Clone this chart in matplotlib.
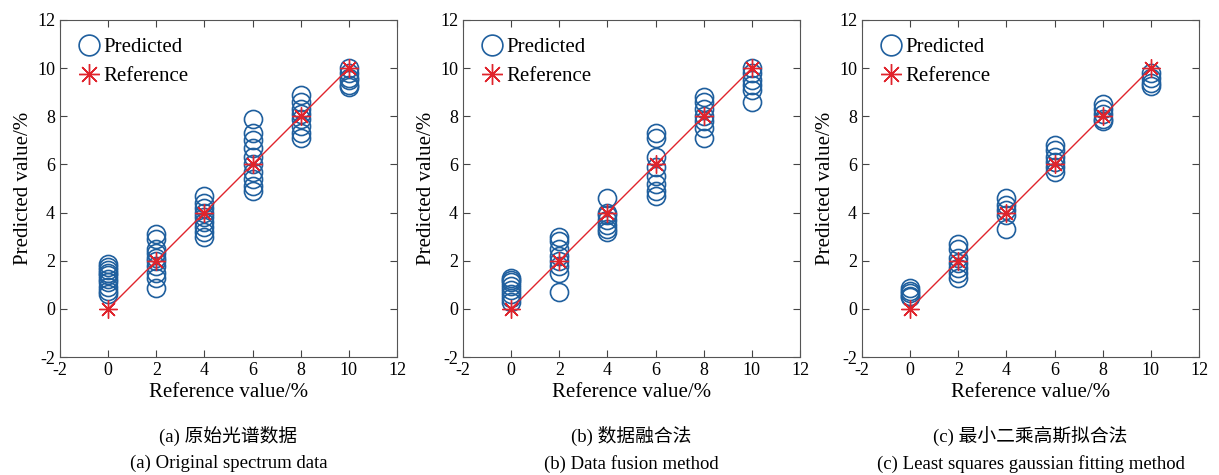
import matplotlib.pyplot as plt

plt.rcParams['font.family'] = ['Liberation Serif', 'Noto Sans CJK SC']
plt.rcParams['axes.unicode_minus'] = False

# reference concentrations (%)
ref_vals = [0, 2, 4, 6, 8, 10]

# predicted values at each reference level, one dict per panel
pred_a = {
    0: [1.85, 1.75, 1.6, 1.5, 1.4, 1.25, 1.1, 0.9, 0.75, 0.6],
    2: [3.1, 2.9, 2.5, 2.3, 2.1, 2.0, 1.8, 1.5, 1.3, 0.85],
    4: [4.7, 4.4, 4.2, 4.0, 3.8, 3.6, 3.4, 3.2, 3.0],
    6: [7.9, 7.3, 7.0, 6.7, 6.3, 6.0, 5.7, 5.4, 5.1, 4.9],
    8: [8.9, 8.6, 8.3, 8.1, 7.9, 7.6, 7.3, 7.1],
    10: [10.0, 9.8, 9.6, 9.5, 9.3, 9.2],
}
pred_b = {
    0: [1.3, 1.2, 1.1, 0.95, 0.8, 0.6, 0.45, 0.3],
    2: [3.0, 2.8, 2.5, 2.2, 2.0, 1.8, 1.5, 0.7],
    4: [4.6, 4.0, 3.9, 3.7, 3.5, 3.3, 3.2],
    6: [7.3, 7.1, 6.3, 5.9, 5.5, 5.2, 4.9, 4.7],
    8: [8.8, 8.6, 8.3, 8.0, 7.8, 7.5, 7.1],
    10: [10.0, 9.8, 9.5, 9.3, 9.1, 8.6],
}
pred_c = {
    0: [0.85, 0.75, 0.65, 0.55, 0.5],
    2: [2.7, 2.5, 2.1, 1.9, 1.7, 1.5, 1.3],
    4: [4.6, 4.3, 4.1, 3.9, 3.3],
    6: [6.8, 6.6, 6.3, 6.1, 5.9, 5.7],
    8: [8.5, 8.3, 8.1, 7.9, 7.8],
    10: [9.8, 9.6, 9.4, 9.25],
}

captions_cn = ['(a) 原始光谱数据', '(b) 数据融合法', '(c) 最小二乘高斯拟合法']
captions_en = ['(a) Original spectrum data', '(b) Data fusion method',
               '(c) Least squares gaussian fitting method']

ticks = [-2, 0, 2, 4, 6, 8, 10, 12]
blue = '#1f5f9e'
red = '#e0242c'

fig = plt.figure(figsize=(12.19, 4.75), dpi=100)
lefts = [0.0492, 0.3798, 0.7071]

for i, pred in enumerate([pred_a, pred_b, pred_c]):
    ax = fig.add_axes([lefts[i], 0.2484, 0.2765, 0.7095])

    xs, ys = [], []
    for r in ref_vals:
        xs += [r] * len(pred[r])
        ys += pred[r]
    ax.plot(xs, ys, 'o', ls='none', mfc='none', mec=blue, ms=13, mew=1.2,
            label='Predicted')
    ax.plot(ref_vals, ref_vals, '-', color=red, lw=1.0)
    ax.plot(ref_vals, ref_vals, ls='none', marker=(8, 2, 0), color=red,
            ms=13, mew=1.0, label='Reference')

    ax.set_xlim(-2, 12)
    ax.set_ylim(-2, 12)
    ax.set_xticks(ticks)
    ax.set_yticks(ticks)
    ax.tick_params(direction='in', top=True, right=True, length=5,
                   labelsize=13, color='#444444')
    for s in ax.spines.values():
        s.set_color('#555555')
        s.set_linewidth(0.8)
    ax.set_xlabel('Reference value/%', fontsize=15, labelpad=3)
    ax.set_ylabel('Predicted value/%', fontsize=15, labelpad=3)

    ax.legend(loc='upper left', frameon=False, fontsize=15, handletextpad=0.15,
              borderaxespad=0.45, handlelength=1.1, labelspacing=0.45,
              markerscale=1.15)

    cx = lefts[i] + 0.2765 / 2
    fig.text(cx, 0.082, captions_cn[i], ha='center', va='center', fontsize=13.5)
    fig.text(cx, 0.024, captions_en[i], ha='center', va='center', fontsize=13.5)

fig.savefig('out.png', dpi=100)
